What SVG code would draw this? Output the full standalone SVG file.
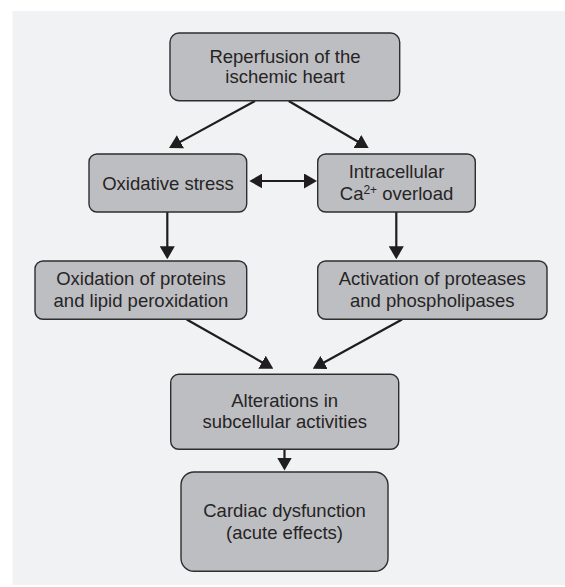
<svg xmlns="http://www.w3.org/2000/svg" width="565" height="587" viewBox="0 0 565 587">
  <style>
    .box { fill: #bdbec1; stroke: #2e2e2e; stroke-width: 1.4; }
    .lbl { font-family: "Liberation Sans", Arial, Helvetica, sans-serif; font-size: 18.5px; fill: #262425; text-anchor: middle; }
    .sup { font-size: 12px; }
    .conn { stroke: #1f1d1e; stroke-width: 2.2; fill: none; }
  </style>
  <defs>
    <marker id="ah" markerUnits="userSpaceOnUse" viewBox="0 0 13 15" markerWidth="13" markerHeight="15" refX="7" refY="7.5" orient="auto-start-reverse">
      <path d="M0,0 L13,7.5 L0,15 Z" fill="#1f1d1e"/>
    </marker>
  </defs>
  <rect x="0" y="0" width="565" height="587" fill="#ffffff"/>
  <rect x="12.5" y="11" width="552.5" height="574" fill="#f1f2f4"/>

  <g id="connectors">
    <path class="conn" d="M255,101 L174.3,145.1" marker-end="url(#ah)"/>
    <path class="conn" d="M288.7,101 L363.5,145" marker-end="url(#ah)"/>
    <path class="conn" d="M255.3,181 L311,181" marker-start="url(#ah)" marker-end="url(#ah)"/>
    <path class="conn" d="M167.3,212 L167.3,253.3" marker-end="url(#ah)"/>
    <path class="conn" d="M396.3,212 L396.3,253.3" marker-end="url(#ah)"/>
    <path class="conn" d="M186.7,319.5 L268.1,365.7" marker-end="url(#ah)"/>
    <path class="conn" d="M402,319.5 L318,365.8" marker-end="url(#ah)"/>
    <path class="conn" d="M284.5,449.5 L284.5,464.5" marker-end="url(#ah)"/>
  </g>

  <g id="reperfusion">
    <rect class="box" x="170" y="33" width="229.7" height="67.7" rx="9"/>
    <text class="lbl" x="285" y="62.7">Reperfusion of the</text>
    <text class="lbl" x="285" y="83.3">ischemic heart</text>
  </g>

  <g id="oxidative-stress">
    <rect class="box" x="89" y="154" width="157.7" height="58" rx="8"/>
    <text class="lbl" x="168" y="189.5">Oxidative stress</text>
  </g>

  <g id="ca-overload">
    <rect class="box" x="317.7" y="154" width="157.6" height="58" rx="8"/>
    <text class="lbl" x="396.5" y="177.5">Intracellular</text>
    <text class="lbl" x="396.5" y="200">Ca<tspan class="sup" dy="-6.5">2+</tspan><tspan dy="6.5"> overload</tspan></text>
  </g>

  <g id="oxidation">
    <rect class="box" x="35" y="261" width="211.7" height="58.3" rx="8"/>
    <text class="lbl" x="141" y="285.3">Oxidation of proteins</text>
    <text class="lbl" x="141" y="306.7">and lipid peroxidation</text>
  </g>

  <g id="activation">
    <rect class="box" x="317.7" y="261" width="229.3" height="58.3" rx="8"/>
    <text class="lbl" x="432.3" y="285.3">Activation of proteases</text>
    <text class="lbl" x="432.3" y="306.5">and phospholipases</text>
  </g>

  <g id="alterations">
    <rect class="box" x="170.7" y="374.3" width="228" height="75" rx="8"/>
    <text class="lbl" x="284.7" y="407">Alterations in</text>
    <text class="lbl" x="284.7" y="428">subcellular activities</text>
  </g>

  <g id="cardiac">
    <rect class="box" x="181" y="472" width="207" height="99.3" rx="13"/>
    <text class="lbl" x="284.5" y="517">Cardiac dysfunction</text>
    <text class="lbl" x="284.5" y="538.5">(acute effects)</text>
  </g>
</svg>
